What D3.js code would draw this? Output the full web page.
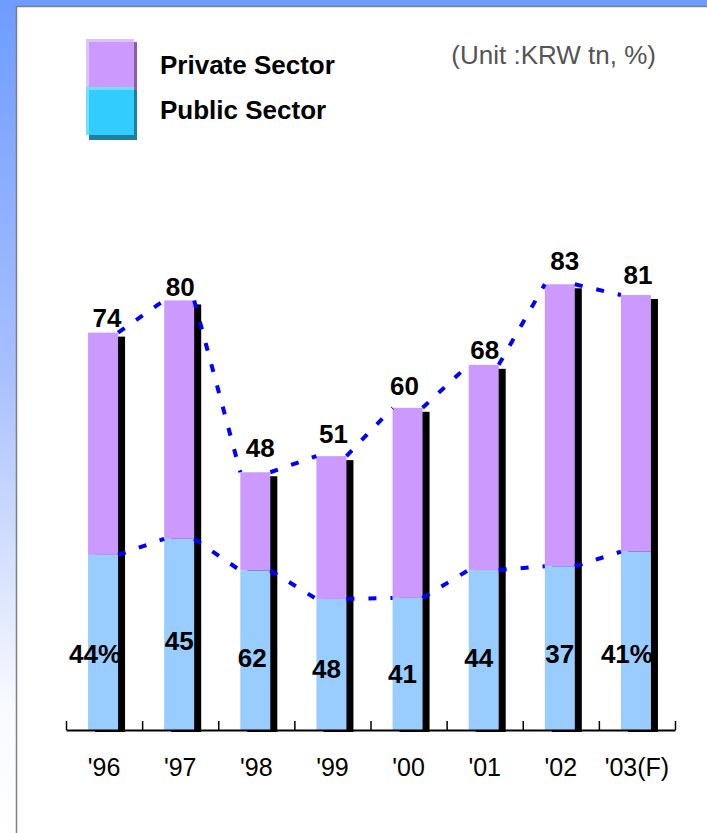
<!DOCTYPE html>
<html>
<head>
<meta charset="utf-8">
<script src="https://cdn.jsdelivr.net/npm/d3@7"></script>
<style>
  body { margin: 0; background: #fff; }
  svg { display: block; font-family: Arial, "Liberation Sans", sans-serif; }
</style>
</head>
<body>
<script>
// chart data (KRW tn)
var years = ["'96", "'97", "'98", "'99", "'00", "'01", "'02", "'03(F)"];
var totals = [74, 80, 48, 51, 60, 68, 83, 81];
var publicSector = [32.6, 35.6, 29.7, 24.4, 24.6, 29.8, 30.5, 33.2];
var privateSector = [41.4, 44.4, 18.3, 26.6, 35.4, 38.2, 52.5, 47.8];
var shareLabels = ["44%", "45", "62", "48", "41", "44", "37", "41%"];
var seriesNames = ["Private Sector", "Public Sector"];

// hand placed label nudges, as in the original slide
var totalNudge = [[4, 6], [1, 4], [5, 15], [2, 13], [-3, 13], [1, 6], [5, 14], [2, 11]];
var shareNudge = [[-8, 67], [0, 80], [-3, 63], [-5, 52], [-5, 47], [-5, 63], [0, 67], [-9, 67]];

const w = 707;
const h = 833;
const barW = 30;

var svg = d3.select('body').append('svg')
  .attr('width', w)
  .attr('height', h);

// background: blue gradient frame with white panel
var defs = svg.append('defs');
var grad = defs.append('linearGradient')
  .attr('id', 'bg')
  .attr('x1', 0).attr('y1', 0).attr('x2', 0).attr('y2', 1);
grad.append('stop').attr('offset', '0').attr('stop-color', '#6e9cff');
grad.append('stop').attr('offset', '0.45').attr('stop-color', '#a9c0fd');
grad.append('stop').attr('offset', '0.85').attr('stop-color', '#f8faff');
grad.append('stop').attr('offset', '1').attr('stop-color', '#ffffff');

svg.append('rect').attr('width', w).attr('height', h).attr('fill', 'url(#bg)');
svg.append('rect')
  .attr('x', 16).attr('y', 6)
  .attr('width', w - 16).attr('height', h - 6)
  .attr('fill', '#fff');
svg.append('path')
  .attr('d', 'M16.5,' + h + 'V6.5H' + w)
  .attr('fill', 'none')
  .attr('stroke', '#7f7f7f')
  .attr('stroke-width', 1.5);

// scales
var xScale = d3.scaleBand()
  .domain(years)
  .range([66, 675]);

var yScale = d3.scaleLinear()
  .domain([0, 100])
  .range([730, 193]);

var tickScale = d3.scaleLinear()
  .domain([0, years.length])
  .range([66, 675]);

function barX(i) {
  return xScale(years[i]) + (xScale.bandwidth() - barW) / 2 - 1;
}

var data = years.map(function(y, i) {
  return { year: y, i: i, total: totals[i], pub: publicSector[i], priv: privateSector[i] };
});

// shadows
svg.append('g').selectAll('rect')
  .data(data)
  .enter()
  .append('rect')
  .attr('x', (d) => barX(d.i) + 7)
  .attr('y', (d) => yScale(d.pub + d.priv) + 4)
  .attr('width', barW)
  .attr('height', (d) => yScale(0) + 2 - (yScale(d.pub + d.priv) + 4))
  .attr('fill', '#000');

// private part (top of stack)
svg.append('g').selectAll('rect')
  .data(data)
  .enter()
  .append('rect')
  .attr('x', (d) => barX(d.i))
  .attr('y', (d) => yScale(d.pub + d.priv))
  .attr('width', barW)
  .attr('height', (d) => yScale(d.pub) - yScale(d.pub + d.priv))
  .attr('fill', '#cc99ff');

// public part
svg.append('g').selectAll('rect')
  .data(data)
  .enter()
  .append('rect')
  .attr('x', (d) => barX(d.i))
  .attr('y', (d) => yScale(d.pub))
  .attr('width', barW)
  .attr('height', (d) => yScale(0) - yScale(d.pub))
  .attr('fill', '#99ccff');

// axis: baseline with small upward ticks at category borders
svg.append('g')
  .attr('transform', 'translate(0,' + yScale(0) + ')')
  .call(d3.axisBottom(tickScale)
    .tickValues(d3.range(years.length + 1))
    .tickSizeInner(-9)
    .tickSizeOuter(0)
    .tickFormat(''))
  .call((g) => g.select('.domain').attr('stroke', '#000').attr('stroke-width', 2))
  .call((g) => g.selectAll('.tick line').attr('stroke', '#000').attr('stroke-width', 1.5));

svg.append('g')
  .attr('transform', 'translate(0,' + yScale(0) + ')')
  .call(d3.axisBottom(xScale).tickSize(0).tickPadding(28))
  .call((g) => g.select('.domain').remove())
  .call((g) => g.selectAll('text')
    .attr('font-family', 'Arial, "Liberation Sans", sans-serif')
    .attr('font-size', 25)
    .attr('fill', '#000'));

// dashed series lines: one segment from each bar's top right corner
// to the next bar's top left corner
function seriesPath(fn) {
  var p = d3.path();
  for (var i = 0; i < data.length - 1; i++) {
    p.moveTo(barX(i) + barW, yScale(fn(data[i])));
    p.lineTo(barX(i + 1), yScale(fn(data[i + 1])));
  }
  return p.toString();
}

[(d) => d.pub + d.priv, (d) => d.pub].forEach(function(fn) {
  svg.append('path')
    .attr('d', seriesPath(fn))
    .attr('fill', 'none')
    .attr('stroke', '#0000ff')
    .attr('stroke-width', 4)
    .attr('stroke-dasharray', '8,14');
});

// total labels
svg.append('g').selectAll('text')
  .data(data)
  .enter()
  .append('text')
  .attr('x', (d) => barX(d.i) + barW / 2 + totalNudge[d.i][0])
  .attr('y', (d) => yScale(d.pub + d.priv) - totalNudge[d.i][1])
  .attr('text-anchor', 'middle')
  .attr('font-size', 26)
  .attr('font-weight', 'bold')
  .text((d) => d.total);

// public share labels
svg.append('g').selectAll('text')
  .data(data)
  .enter()
  .append('text')
  .attr('x', (d) => barX(d.i) + barW / 2 + shareNudge[d.i][0])
  .attr('y', (d) => yScale(0) - shareNudge[d.i][1])
  .attr('text-anchor', 'middle')
  .attr('font-size', 26)
  .attr('font-weight', 'bold')
  .text((d) => shareLabels[d.i]);

// legend
var legend = svg.append('g');
var legendColors = [
  { light: '#dcc2ff', main: '#cc99ff', dark: '#8a5fa8' },
  { light: '#73deff', main: '#33ccff', dark: '#1f7f9f' }
];
seriesNames.forEach(function(name, i) {
  var y0 = 39 + i * 48;
  var c = legendColors[i];
  legend.append('rect').attr('x', 89).attr('y', y0 + 3).attr('width', 48).attr('height', 50).attr('fill', c.dark);
  legend.append('rect').attr('x', 86).attr('y', y0).attr('width', 48).attr('height', 48).attr('fill', c.light);
  legend.append('rect').attr('x', 89).attr('y', y0 + 3).attr('width', 45).attr('height', 45).attr('fill', c.main);
  legend.append('text')
    .attr('x', 160)
    .attr('y', 74 + i * 45)
    .attr('font-size', 26)
    .attr('font-weight', 'bold')
    .text(name);
});

svg.append('text')
  .attr('x', 656)
  .attr('y', 64)
  .attr('text-anchor', 'end')
  .attr('font-size', 26)
  .attr('fill', '#555')
  .text('(Unit :KRW tn, %)');
</script>
</body>
</html>
